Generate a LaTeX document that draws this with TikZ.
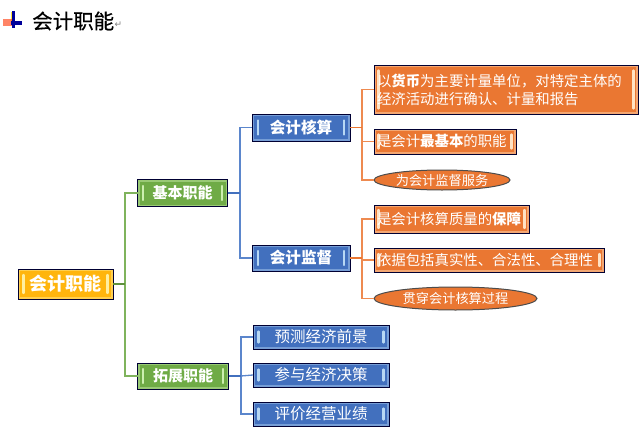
\documentclass[tikz,border=0pt]{standalone}
\usepackage{fontspec}
\setmainfont{Noto Sans CJK SC}
\newfontfamily\titlefont[FakeBold=0.5]{Noto Sans CJK SC}
\newfontfamily\arrowfont{DejaVu Sans}
\usetikzlibrary{shapes.geometric}
\definecolor{cgold}{HTML}{FFB50D}
\definecolor{cgreen}{HTML}{6FAB46}
\definecolor{cblue}{HTML}{4270BE}
\definecolor{corange}{HTML}{EA7732}
\definecolor{lgold}{HTML}{FFEFA0}
\definecolor{lgreen}{HTML}{CDEFB0}
\definecolor{lblue}{HTML}{B8D8F4}
\definecolor{lorange}{HTML}{FFE2C4}
\definecolor{lgl}{HTML}{7FB35C}
\definecolor{lbl}{HTML}{5B86CC}
\definecolor{lor}{HTML}{EE8A50}
\tikzset{
  x=1pt,y=-1pt,
  boxbase/.style={draw=black!80!blue,line width=1pt,rectangle,text=white,inner sep=0pt,outer sep=0pt,align=center},
  bars/.style n args={3}{path picture={
    \draw[#1,line width=4pt,opacity=.45] (path picture bounding box.south west) rectangle (path picture bounding box.north east);
    \draw[#1,line width=2.4pt,line cap=round]
      ([xshift=#2,yshift=#3]path picture bounding box.west) -- ([xshift=#2,yshift=-#3]path picture bounding box.west);
    \draw[#1,line width=2.4pt,line cap=round]
      ([xshift=-#2,yshift=#3]path picture bounding box.east) -- ([xshift=-#2,yshift=-#3]path picture bounding box.east);
  }},
  rootbox/.style={boxbase,fill=cgold,bars={lgold}{5.5pt}{9pt},font=\fontsize{18pt}{20pt}\selectfont\bfseries},
  greenbox/.style={boxbase,fill=cgreen,bars={lgreen}{5.5pt}{7pt},font=\fontsize{15pt}{18pt}\selectfont\bfseries},
  bluebox/.style={boxbase,fill=cblue,bars={lblue}{6pt}{7pt},font=\fontsize{15.6pt}{18pt}\selectfont\bfseries},
  leafbox/.style={boxbase,fill=cblue,bars={lblue}{5.5pt}{5.5pt},font=\fontsize{15.5pt}{18pt}\selectfont},
  orangebox/.style={boxbase,fill=corange,bars={lorange}{4.5pt}{#1},font=\fontsize{14.4pt}{18pt}\selectfont},
  ovalbox/.style={draw=black!70,line width=1pt,ellipse,fill=corange,text=white,inner sep=0pt,outer sep=0pt,font=\fontsize{13.2pt}{16pt}\selectfont},
  greenline/.style={draw=lgl,line width=1.3pt},
  blueline/.style={draw=lbl,line width=1.3pt},
  orangeline/.style={draw=lor,line width=1.3pt},
  stub/.style={line width=1.8pt},
  titletext/.style={inner sep=0pt,font=\titlefont\fontsize{20.5pt}{22pt}\selectfont},
}
\begin{document}
\begin{tikzpicture}
\useasboundingbox (0,0) rectangle (640,439);
\fill[white] (0,0) rectangle (640,439);
% title icon
\fill[yellow!80!orange,opacity=.8] (10.5,12) rectangle (15,21);
\fill[red!60!orange,opacity=.6] (3,18.5) rectangle (12,26);
\fill[blue!60!black] (12,11) rectangle (14.5,28);
\fill[blue!60!black] (11,21) rectangle (22,24.5);
\node[titletext,anchor=west] (title) at (32,21) {会计职能};
\node[inner sep=0pt,text=black!50,font=\arrowfont\fontsize{9pt}{10pt}\selectfont] (ret) at (118.5,24.5) {↵};
% nodes
\node[rootbox,minimum width=95pt,minimum height=30pt] (root) at (65.5,284) {会计职能};
\node[greenbox,minimum width=90pt,minimum height=27pt] (jb) at (182.5,193) {基本职能};
\node[greenbox,minimum width=91pt,minimum height=26pt] (tz) at (183,376) {拓展职能};
\node[bluebox,minimum width=98pt,minimum height=27pt] (hs) at (301,127.5) {会计核算};
\node[bluebox,minimum width=98pt,minimum height=26pt] (jd) at (301,258) {会计监督};
\node[leafbox,minimum width=136pt,minimum height=24pt] (yc) at (321,337) {预测经济前景};
\node[leafbox,minimum width=136pt,minimum height=24pt] (cy) at (321,375) {参与经济决策};
\node[leafbox,minimum width=136pt,minimum height=24pt] (pj) at (321,414) {评价经营业绩};
\node[orangebox=19pt,anchor=north west,text width=258pt,inner xsep=3pt,minimum height=49pt,align=left] (o1) at (374,65)
  {以\textbf{货币}为主要计量单位，对特定主体的\\经济活动进行确认、计量和报告};
\node[orangebox=7pt,anchor=north west,text width=136pt,inner xsep=3pt,minimum height=25pt,align=left] (o2) at (374,129)
  {是会计\textbf{最基本}的职能};
\node[ovalbox,minimum width=136pt,minimum height=20pt] (e1) at (442,180) {为会计监督服务};
\node[orangebox=9pt,anchor=north west,text width=149pt,inner xsep=3pt,minimum height=28pt,align=left] (o3) at (374,205)
  {是会计核算质量的\textbf{保障}};
\node[orangebox=6pt,anchor=north west,text width=224pt,inner xsep=3pt,minimum height=24pt,align=left] (o4) at (374,248)
  {依据包括真实性、合法性、合理性};
\node[ovalbox,minimum width=163pt,minimum height=23pt] (e2) at (455.5,298.5) {贯穿会计核算过程};
% connectors
\coordinate (gbus) at (125,284);
\coordinate (bbus) at (240,193);
\coordinate (tbus) at (241,376);
\coordinate (obus) at (362,127.5);
\coordinate (pbus) at (362,258);
\draw[greenline] (gbus) |- (jb.west);
\draw[greenline] (gbus) |- (tz.west);
\draw[greenline,stub,draw=cgreen!85!black] (root.east) -- (gbus);
\draw[blueline] (bbus) |- (hs.west);
\draw[blueline] (bbus) |- (jd.west);
\draw[blueline,stub,draw=cblue] (jb.east) -- (bbus);
\draw[blueline] (tbus) |- (yc.west);
\draw[blueline] (tbus) -- (cy.west);
\draw[blueline] (tbus) |- (pj.west);
\draw[blueline,stub,draw=cblue] (tz.east) -- (tbus);
\draw[orangeline] (obus) |- (o1.west);
\draw[orangeline] (obus) |- (o2.west);
\draw[orangeline] (obus) |- (e1.west);
\draw[orangeline,stub,draw=corange] (hs.east) -- (obus);
\draw[orangeline] (pbus) |- (o3.west);
\draw[orangeline] (pbus) |- (o4.west);
\draw[orangeline] (pbus) |- (e2.west);
\draw[orangeline,stub,draw=corange] (jd.east) -- (pbus);
\end{tikzpicture}
\end{document}
